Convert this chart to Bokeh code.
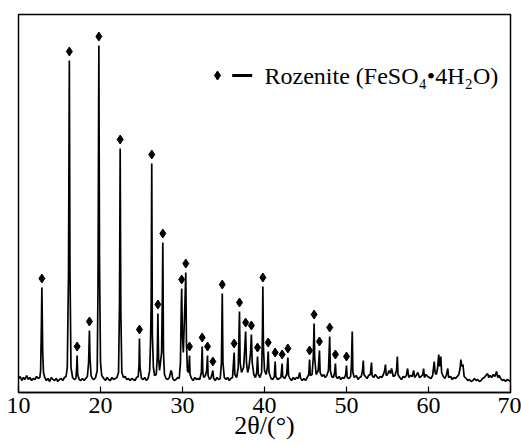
from bokeh.plotting import figure
from bokeh.models import Label, FixedTicker
from bokeh.embed import file_html
from bokeh.resources import INLINE

# ---------------- data ----------------
# XRD trace: 2theta (deg) and intensity (a.u.)
two_theta = [
    10.0, 10.2, 10.4, 10.6, 10.8, 11.0, 11.2, 11.4, 11.6, 11.8, 12.0, 12.2, 12.4, 12.6,
    12.7, 12.8, 12.85, 12.9, 12.95, 13.05, 13.2,
    13.4, 13.6, 13.8, 14.0, 14.2, 14.4, 14.6, 14.8, 15.0, 15.2, 15.4, 15.6, 15.8, 15.95,
    16.1, 16.2, 16.28, 16.4, 16.6, 16.8, 17.0,
    17.1, 17.15, 17.22, 17.4, 17.6, 17.8, 18.0, 18.2, 18.4, 18.55,
    18.65, 18.72, 18.85, 19.0, 19.2, 19.4, 19.6, 19.7,
    19.8, 19.88, 20.0, 20.15, 20.4, 20.6, 20.8, 21.0, 21.2, 21.4, 21.6, 21.8, 22.0, 22.2, 22.32,
    22.4, 22.48, 22.6, 22.8, 23.0, 23.2, 23.4, 23.6, 23.8, 24.0, 24.2, 24.4, 24.6, 24.7,
    24.75, 24.82, 25.0, 25.2, 25.4, 25.6, 25.8, 26.0, 26.1, 26.18,
    26.25, 26.32, 26.45, 26.6, 26.8, 26.92,
    27.0, 27.08, 27.2, 27.45, 27.55,
    27.6, 27.68, 27.8, 28.0, 28.2, 28.4, 28.6, 28.7, 28.8, 29.0, 29.2, 29.4, 29.6, 29.75, 29.85,
    29.9, 29.98, 30.1, 30.3, 30.4, 30.48, 30.6, 30.75, 30.85, 30.92, 31.1, 31.3, 31.5, 31.7,
    31.9, 32.1, 32.3, 32.4, 32.48, 32.6, 32.8, 32.95, 33.05, 33.12, 33.3, 33.5, 33.7, 33.8,
    34.0, 34.2, 34.4, 34.6, 34.75, 34.85, 34.93, 35.1, 35.3, 35.5, 35.7, 35.9, 36.1, 36.3,
    36.38, 36.6, 36.8, 36.95, 37.03, 37.2, 37.45, 37.6, 37.7, 37.8, 37.95, 38.1, 38.3, 38.4,
    38.5, 38.7, 38.9, 39.05, 39.15, 39.25, 39.45, 39.65, 39.75, 39.8, 39.87, 40.0, 40.2,
    40.35, 40.45, 40.55, 40.8, 41.0, 41.2, 41.3, 41.38, 41.6, 41.8, 42.0, 42.15, 42.22,
    42.45, 42.7, 42.85, 42.93, 43.1, 43.3, 43.5, 43.7, 43.9, 44.1, 44.3, 44.4, 44.6, 44.8,
    45.0, 45.2, 45.4, 45.5, 45.58, 45.8, 45.95, 46.05, 46.12, 46.3, 46.55, 46.7, 46.78,
    47.0, 47.2, 47.4, 47.6, 47.8, 47.95, 48.03, 48.2, 48.4, 48.55, 48.65, 48.73, 48.9,
    49.1, 49.3, 49.5, 49.7, 49.9, 50.0, 50.08, 50.3, 50.5, 50.6, 50.7, 50.78, 50.95,
    51.2, 51.4, 51.6, 51.8, 51.95, 52.05, 52.12, 52.3, 52.5, 52.7, 52.9, 53.05, 53.12,
    53.3, 53.5, 53.7, 53.9, 54.1, 54.3, 54.5, 54.65, 54.75, 54.85, 55.0, 55.2, 55.35,
    55.5, 55.7, 55.9, 56.1, 56.2, 56.28, 56.5, 56.7, 56.9, 57.1, 57.3, 57.45, 57.6, 57.8,
    58.0, 58.2, 58.3, 58.5, 58.7, 58.9, 59.1, 59.3, 59.4, 59.5, 59.7, 59.9, 60.1, 60.3,
    60.5, 60.7, 60.8, 60.95, 61.1, 61.25, 61.35, 61.5, 61.6, 61.8, 62.0, 62.2, 62.35,
    62.45, 62.7, 62.9, 63.1, 63.3, 63.5, 63.7, 63.85, 63.95, 64.05, 64.2, 64.35, 64.6,
    64.8, 65.0, 65.2, 65.4, 65.6, 65.8, 66.0, 66.2, 66.4, 66.6, 66.8, 67.0, 67.2, 67.35,
    67.5, 67.7, 67.9, 68.1, 68.3, 68.45, 68.6, 68.8, 69.0, 69.2, 69.4, 69.6, 69.8, 70.0,
]
intensity = [
    14, 16, 12, 15, 13, 17, 13, 15, 12, 14, 13, 16, 14, 15,
    22, 70, 105, 75, 40, 20, 15,
    12, 14, 11, 15, 13, 12, 14, 11, 13, 14, 12, 15, 16, 25,
    120, 332, 120, 25, 15, 13, 14,
    25, 37, 18, 13, 12, 14, 12, 14, 16, 30,
    62, 35, 17, 14, 13, 15, 22, 110,
    347, 130, 30, 17, 14, 12, 15, 13, 12, 15, 13, 14, 15, 20, 90,
    244, 80, 20, 15, 16, 13, 14, 12, 14, 13, 12, 15, 16, 28,
    54, 25, 14, 13, 15, 12, 14, 22, 50, 90,
    229, 60, 25, 17, 18, 35,
    79, 35, 22, 40, 100,
    150, 40, 18, 14, 13, 15, 22, 20, 14, 12, 13, 15, 14, 30, 85,
    104, 60, 40, 90, 120, 50, 22, 20, 37, 18, 14, 12, 15, 13,
    14, 13, 20, 46, 20, 15, 17, 22, 37, 17, 13, 15, 22, 14,
    12, 15, 13, 14, 30, 99, 30, 15, 13, 15, 12, 14, 15, 40,
    18, 15, 25, 81, 30, 20, 25, 45, 61, 30, 20, 25, 40, 58,
    30, 18, 15, 20, 36, 18, 15, 20, 60, 106, 45, 22, 18,
    25, 41, 20, 14, 13, 16, 31, 16, 13, 14, 15, 29, 16,
    14, 18, 35, 17, 14, 12, 15, 13, 15, 14, 20, 14, 12, 14,
    12, 15, 18, 33, 17, 18, 35, 69, 35, 18, 22, 42, 20,
    16, 18, 15, 17, 22, 56, 22, 16, 15, 20, 29, 16, 14,
    16, 13, 15, 14, 18, 27, 15, 14, 16, 28, 61, 20, 15,
    17, 13, 15, 16, 22, 32, 18, 16, 14, 17, 18, 30, 17,
    15, 18, 16, 14, 16, 15, 18, 22, 28, 17, 18, 22, 19,
    24, 16, 17, 22, 36, 18, 15, 13, 16, 15, 17, 24, 15, 17,
    16, 22, 15, 17, 20, 15, 16, 18, 24, 15, 18, 16, 15, 14,
    17, 31, 20, 18, 24, 38, 26, 36, 20, 16, 14, 18, 24,
    15, 16, 13, 15, 14, 16, 18, 24, 33, 26, 28, 16, 14,
    12, 13, 11, 12, 14, 12, 13, 11, 12, 14, 15, 17, 19, 15,
    17, 15, 18, 16, 21, 15, 17, 14, 12, 13, 11, 13, 12, 11,
]

# Rozenite peaks marked with a diamond
rozenite_pos = [12.85, 16.2, 17.15, 18.65, 19.8, 22.4, 24.75, 26.25, 27.0, 27.6,
                29.9, 30.4, 30.85, 32.4, 33.05, 33.7, 34.85, 36.3, 36.95, 37.7,
                38.4, 39.15, 39.8, 40.45, 41.3, 42.15, 42.85, 45.5, 46.05, 46.7,
                47.95, 48.65, 50.0]
rozenite_int = [105, 332, 37, 62, 347, 244, 54, 229, 79, 150,
                104, 120, 37, 46, 37, 22, 99, 40, 81, 61,
                58, 36, 106, 41, 31, 29, 35, 33, 69, 42,
                56, 29, 27]

x_ticks = [10, 20, 30, 40, 50, 60, 70]
legend_text = "Rozenite (FeSO\u2084\u20224H\u2082O)"
x_title = "2\u03b8/(\u00b0)"

# ---------------- styling / layout constants ----------------
MARKER_GAP = 9          # diamond sits this far above the peak top
LEG_Y = 317
LEG_MARK_X = 34.27
LEG_LINE_X = (36.06, 38.5)
LEG_TEXT_X = 40.0
FONT = "Liberation Serif"

p = figure(width=521, height=445, x_range=(10, 70), y_range=(0, 378),
           output_backend="svg", toolbar_location=None, y_axis_location=None,
           min_border_left=18, min_border_right=11, min_border_top=14,
           min_border_bottom=53)
p.background_fill_color = "white"
p.border_fill_color = "white"
p.xgrid.visible = False
p.ygrid.visible = False
p.outline_line_color = "black"
p.outline_line_width = 1.5
p.outline_line_alpha = 1.0

p.line(two_theta, intensity, line_color="black", line_width=1.7)
p.scatter(rozenite_pos, [v + MARKER_GAP for v in rozenite_int],
          marker="diamond", size=9, color="black")

# legend (drawn by hand, like the original)
p.scatter([LEG_MARK_X], [LEG_Y], marker="diamond", size=9, color="black")
p.line(list(LEG_LINE_X), [LEG_Y, LEG_Y], line_color="black", line_width=3)
p.add_layout(Label(x=LEG_TEXT_X, y=LEG_Y, text=legend_text, text_font=FONT,
                   text_font_size="24px", text_baseline="middle", text_color="black"))

ax = p.xaxis[0]
ax.ticker = FixedTicker(ticks=x_ticks)
ax.major_tick_in = 6
ax.major_tick_out = 0
ax.minor_tick_line_color = None
ax.axis_line_width = 1.5
ax.major_tick_line_width = 1.2
ax.major_label_text_font = FONT
ax.major_label_text_font_size = "24px"
ax.major_label_text_color = "black"
ax.major_label_standoff = 5
ax.axis_label = x_title
ax.axis_label_text_font = FONT
ax.axis_label_text_font_size = "26px"
ax.axis_label_text_font_style = "normal"
ax.axis_label_text_color = "black"
ax.axis_label_standoff = -5

open("out.html", "w").write(file_html(p, INLINE))
